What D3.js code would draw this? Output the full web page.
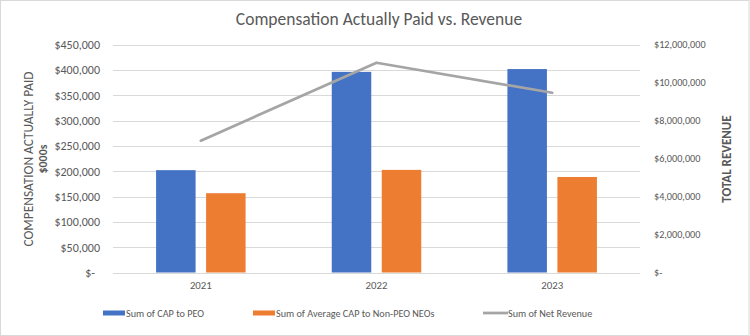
<!DOCTYPE html>
<html>
<head>
<meta charset="utf-8">
<script src="https://cdn.jsdelivr.net/npm/d3@7"></script>
<style>
  html, body { margin: 0; padding: 0; background: #fff; }
  svg { display: block; font-family: Carlito, Calibri, "Liberation Sans", Arial, sans-serif; }
</style>
</head>
<body>
<svg id="chart" width="750" height="336"></svg>
<script>
// Fiscal years and the three plotted series
const years = ["2021", "2022", "2023"];
const capPeo = [202000, 396000, 401500];
const capNonPeo = [156500, 202500, 188500];
const netRevenue = [6940000, 11040000, 9460000];

const leftTicks = [0, 50000, 100000, 150000, 200000, 250000, 300000, 350000, 400000, 450000];
const rightTicks = [0, 2000000, 4000000, 6000000, 8000000, 10000000, 12000000];

const seriesNames = ["Sum of CAP to PEO", "Sum of Average CAP to Non-PEO NEOs", "Sum of Net Revenue"];
const colors = ["#4472C4", "#ED7D31", "#A5A5A5"];

const svg = d3.select("#chart");
const W = 750, H = 336;
const plot = { left: 113, right: 640, top: 44.5, bottom: 272.5 };
const textColor = "#595959";
const fontFamily = "Carlito, Calibri, 'Liberation Sans', Arial, sans-serif";

// outer frame
svg.append("rect")
  .attr("x", 0.5).attr("y", 0.5).attr("width", W - 1.5).attr("height", H - 1)
  .attr("fill", "#fff").attr("stroke", "#d9d9d9");

const x = d3.scaleBand().domain(years).range([plot.left, plot.right]);
const yL = d3.scaleLinear().domain([0, 450000]).range([plot.bottom, plot.top]);
const yR = d3.scaleLinear().domain([0, 12000000]).range([plot.bottom, plot.top]);

const money = v => v === 0 ? "$-" : "$" + d3.format(",")(v);

// horizontal gridlines
svg.append("g").selectAll("line").data(leftTicks).join("line")
  .attr("x1", plot.left).attr("x2", plot.right)
  .attr("y1", d => Math.round(yL(d)) + 0.5).attr("y2", d => Math.round(yL(d)) + 0.5)
  .attr("stroke", "#d9d9d9").attr("stroke-width", 1);

// left axis labels
const leftAxis = d3.axisLeft(yL).tickValues(leftTicks).tickFormat(money).tickSize(0).tickPadding(0);
const gL = svg.append("g").attr("transform", `translate(${plot.left - 13},0)`).call(leftAxis);
gL.select(".domain").remove();
gL.selectAll("text")
  .attr("fill", textColor).attr("font-size", 12).attr("font-family", fontFamily)
  .attr("dx", d => d === 0 ? -5 : 0);

// right axis labels
const rightAxis = d3.axisRight(yR).tickValues(rightTicks).tickFormat(money).tickSize(0).tickPadding(0);
const gR = svg.append("g").attr("transform", `translate(${plot.right + 14},0)`).call(rightAxis);
gR.select(".domain").remove();
gR.selectAll("text")
  .attr("fill", textColor).attr("font-size", 10.2).attr("font-family", fontFamily);

// category axis
const xAxis = d3.axisBottom(x).tickSize(0).tickPadding(0);
const gX = svg.append("g").attr("transform", `translate(0,${plot.bottom + 9})`).call(xAxis);
gX.select(".domain").remove();
gX.selectAll("text")
  .attr("fill", textColor).attr("font-size", 10.8).attr("font-family", fontFamily);

// clustered bars
const barW = 39.5, gap = 10.5;
const barData = [];
years.forEach((yr, i) => {
  barData.push({ year: yr, value: capPeo[i], k: 0 });
  barData.push({ year: yr, value: capNonPeo[i], k: 1 });
});
svg.append("g").selectAll("rect").data(barData).join("rect")
  .attr("x", d => x(d.year) + x.bandwidth() / 2 + (d.k === 0 ? -(gap / 2 + barW) : gap / 2))
  .attr("width", barW)
  .attr("y", d => yL(d.value))
  .attr("height", d => yL(0) - yL(d.value))
  .attr("fill", d => colors[d.k]);

// revenue line on the secondary axis
const line = d3.line()
  .x((d, i) => x(years[i]) + x.bandwidth() / 2)
  .y(d => yR(d));
svg.append("path").datum(netRevenue)
  .attr("d", line)
  .attr("fill", "none").attr("stroke", colors[2]).attr("stroke-width", 2.75)
  .attr("stroke-linecap", "round").attr("stroke-linejoin", "round");

// title
svg.append("text")
  .attr("x", 379).attr("y", 25).attr("text-anchor", "middle")
  .attr("font-size", 17.5).attr("fill", textColor)
  .text("Compensation Actually Paid vs. Revenue");

// axis titles
const lt = svg.append("text")
  .attr("transform", "translate(33,159) rotate(-90)")
  .attr("text-anchor", "middle").attr("fill", textColor);
lt.append("tspan").attr("x", 0).attr("dy", 0).attr("font-size", 13.4).text("COMPENSATION ACTUALLY PAID");
lt.append("tspan").attr("x", 0).attr("dy", 14).attr("font-size", 12).attr("font-weight", "bold").text("$000s");

svg.append("text")
  .attr("transform", "translate(731,159) rotate(-90)")
  .attr("text-anchor", "middle").attr("font-size", 13).attr("font-weight", "bold")
  .attr("fill", textColor)
  .text("TOTAL REVENUE");

// legend
const legendX = [103, 253, 483];
const lg = svg.append("g").selectAll("g").data(seriesNames).join("g")
  .attr("transform", (d, i) => `translate(${legendX[i]},313)`);
lg.each(function (d, i) {
  const g = d3.select(this);
  if (i < 2) {
    g.append("rect").attr("x", 0).attr("y", -2.5).attr("width", 22).attr("height", 5).attr("fill", colors[i]);
  } else {
    g.append("line").attr("x1", 0).attr("x2", 25).attr("y1", 0).attr("y2", 0)
      .attr("stroke", colors[i]).attr("stroke-width", 2.75);
  }
  g.append("text").attr("x", i < 2 ? 23 : 25).attr("y", 4)
    .attr("font-size", 10.2).attr("fill", textColor).text(d);
});
</script>
</body>
</html>
